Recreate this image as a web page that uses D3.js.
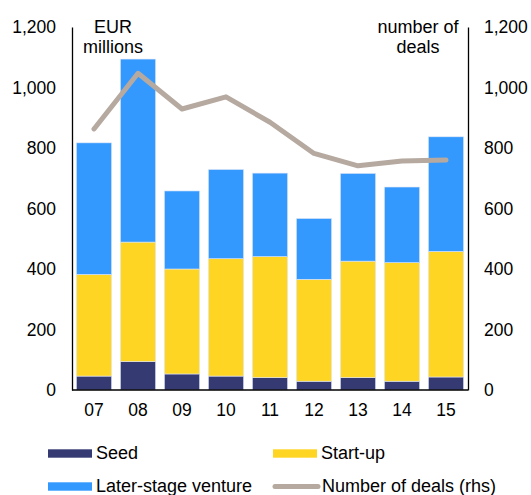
<!DOCTYPE html>
<html>
<head>
<meta charset="utf-8">
<script src="https://cdn.jsdelivr.net/npm/d3@7"></script>
<style>
  body { margin: 0; background: #fff; }
  svg { display: block; font-family: "Liberation Sans", Arial, sans-serif; }
  .axis text { font-size: 17.5px; fill: #000; }
</style>
</head>
<body>
<script>
var years    = ["07", "08", "09", "10", "11", "12", "13", "14", "15"];
var seed     = [46, 94, 53, 46, 41, 29, 41, 29, 43];
var startUp  = [336, 395, 347, 388, 400, 337, 385, 392, 415];
var later    = [435, 605, 258, 295, 276, 201, 290, 250, 379];
var deals    = [863, 1047, 929, 969, 885, 782, 741, 757, 760];
var yTicks   = [0, 200, 400, 600, 800, 1000, 1200];

var colors = { seed: "#363a72", startUp: "#ffd524", later: "#3399ff", deals: "#b5a9a0" };

var svg = d3.select("body").append("svg")
    .attr("width", 531)
    .attr("height", 495);

var x = d3.scaleBand()
    .domain(years)
    .range([72, 468])
    .paddingInner(0.2)
    .paddingOuter(0.1);

var y = d3.scaleLinear()
    .domain([0, 1200])
    .range([390, 27]);

var rows = years.map((yr, i) => ({ year: yr, seed: seed[i], startUp: startUp[i], later: later[i] }));
var stack = d3.stack().keys(["seed", "startUp", "later"])(rows);

svg.append("g")
   .selectAll("g")
   .data(stack)
   .enter().append("g")
   .attr("fill", (d) => colors[d.key])
   .selectAll("rect")
   .data((d) => d)
   .enter().append("rect")
   .attr("x", (d) => x(d.data.year))
   .attr("width", x.bandwidth())
   .attr("y", (d) => y(d[1]))
   .attr("height", (d) => y(d[0]) - y(d[1]))
   .attr("stroke", "#dfe6f5")
   .attr("stroke-width", 0.6);

// deals line (rhs, same 0-1200 scale)
var line = d3.line()
    .x((d, i) => x(years[i]) + x.bandwidth() / 2)
    .y((d) => y(d));

svg.append("path")
   .datum(deals)
   .attr("d", line)
   .attr("fill", "none")
   .attr("stroke", colors.deals)
   .attr("stroke-width", 5)
   .attr("stroke-linecap", "round")
   .attr("stroke-linejoin", "round");

// axes
var leftAxis = svg.append("g")
   .attr("class", "axis")
   .attr("transform", "translate(72,0)")
   .call(d3.axisLeft(y).tickValues(yTicks).tickSize(0).tickPadding(16).tickFormat(d3.format(",")));

var rightAxis = svg.append("g")
   .attr("class", "axis")
   .attr("transform", "translate(468,0)")
   .call(d3.axisRight(y).tickValues(yTicks).tickSize(0).tickPadding(16).tickFormat(d3.format(",")));

var bottomAxis = svg.append("g")
   .attr("class", "axis")
   .attr("transform", "translate(0,390)")
   .call(d3.axisBottom(x).tickSize(0).tickPadding(14));

[leftAxis, rightAxis, bottomAxis].forEach((g) => {
    g.select(".domain").attr("stroke", "#000").attr("stroke-width", 1.3);
});
bottomAxis.select(".domain").attr("d", "M72,0H468");

// unit labels
var unitLabel = (cx, lines) => {
    var t = svg.append("text")
        .attr("text-anchor", "middle")
        .attr("font-size", 18)
        .attr("fill", "#000");
    lines.forEach((s, i) => {
        t.append("tspan").attr("x", cx).attr("y", 33 + i * 20).text(s);
    });
};
unitLabel(113, ["EUR", "millions"]);
unitLabel(418, ["number of", "deals"]);

// legend
var legend = [
    { label: "Seed",                   color: colors.seed,    x: 48,  y: 453.5, kind: "bar"  },
    { label: "Start-up",               color: colors.startUp, x: 273, y: 453.5, kind: "bar"  },
    { label: "Later-stage venture",    color: colors.later,   x: 48,  y: 486.5, kind: "bar"  },
    { label: "Number of deals (rhs)",  color: colors.deals,   x: 273, y: 486.5, kind: "line" }
];

var lg = svg.append("g")
   .selectAll("g")
   .data(legend)
   .enter().append("g")
   .attr("transform", (d) => "translate(" + d.x + "," + d.y + ")");

lg.filter((d) => d.kind === "bar").append("rect")
  .attr("x", 0).attr("y", -4.2)
  .attr("width", 44).attr("height", 8.4)
  .attr("fill", (d) => d.color);

lg.filter((d) => d.kind === "line").append("line")
  .attr("x1", 2).attr("x2", 45)
  .attr("y1", 0).attr("y2", 0)
  .attr("stroke", (d) => d.color)
  .attr("stroke-width", 5)
  .attr("stroke-linecap", "round");

lg.append("text")
  .attr("x", (d) => d.kind === "line" ? 49 : 48)
  .attr("y", 5.6)
  .attr("font-size", 18)
  .text((d) => d.label);
</script>
</body>
</html>
